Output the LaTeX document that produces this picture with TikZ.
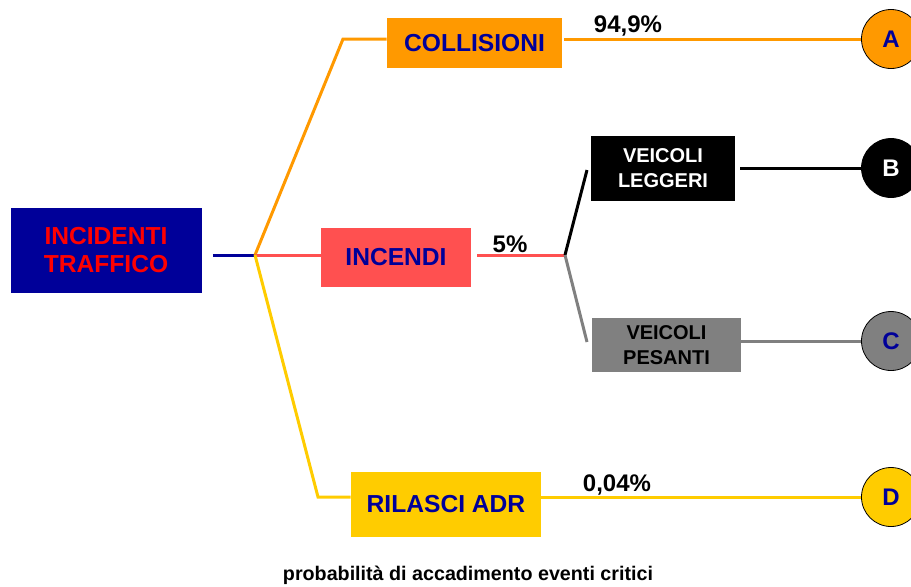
\documentclass[tikz,border=0pt]{standalone}
\usepackage{fontspec}
\setmainfont{Liberation Sans}
\usepackage{tikz}
\definecolor{navyblue}{HTML}{000099}
\definecolor{collorange}{HTML}{FF9900}
\definecolor{firered}{HTML}{FF5050}
\definecolor{adryellow}{HTML}{FFCC00}
\definecolor{heavygray}{HTML}{808080}

\begin{document}
\begin{tikzpicture}[y=-.5pt, x=.5pt]
\tikzset{
  box/.style={inner sep=0pt, align=center, font=\bfseries\fontsize{12.3}{14}\selectfont},
  smallbox/.style={box, font=\bfseries\fontsize{10}{12.5}\selectfont},
  event/.style={circle, draw=black, thin, minimum size=29.5pt, inner sep=0pt, font=\bfseries\fontsize{12}{12}\selectfont},
  branch/.style={line width=1.5pt},
  prob/.style={font=\bfseries\fontsize{12}{12}\selectfont}
}
\useasboundingbox (0,0) rectangle (911,586);
\node[box, fill=navyblue, text=red, minimum width=95.5pt, minimum height=42.5pt] (inc) at (106,250.5) {INCIDENTI\\TRAFFICO};
\node[box, fill=collorange, text=navyblue, minimum width=87.5pt, minimum height=25pt] (coll) at (474.5,43) {COLLISIONI};
\node[box, fill=firered, text=navyblue, minimum width=75pt, minimum height=29.5pt] (fire) at (396,257.5) {INCENDI};
\node[smallbox, fill=black, text=white, minimum width=72pt, minimum height=32.5pt] (light) at (663,168.5) {VEICOLI\\LEGGERI};
\node[smallbox, fill=heavygray, text=black, minimum width=74.5pt, minimum height=27pt] (heavy) at (666.5,345) {VEICOLI\\PESANTI};
\node[box, fill=adryellow, text=navyblue, minimum width=95pt, minimum height=32.5pt] (adr) at (446,504.5) {RILASCI ADR};
\node[event, fill=collorange, text=navyblue] (A) at (891,39) {A};
\node[event, fill=black, text=white] (B) at (891,168) {B};
\node[event, fill=heavygray, text=navyblue] (C) at (891,341) {C};
\node[event, fill=adryellow, text=navyblue] (D) at (891,497) {D};
\coordinate (j1) at (255,255);
\coordinate (j2) at (565,255);
\coordinate (kcoll) at (343,39);
\coordinate (kadr) at (318,497);
\coordinate (klight) at (587,170);
\coordinate (kheavy) at (587,342);
\draw[branch, navyblue, shorten <=5.5pt] (inc.east |- j1) -- (j1);
\draw[branch, collorange] (j1) -- (kcoll) -- (coll.west |- kcoll);
\draw[branch, collorange, shorten <=1pt] (coll.east |- A.west) -- (A.west);
\draw[branch, firered] (j1) -- (fire.west |- j1);
\draw[branch, firered, shorten <=3pt] (fire.east |- j2) -- (j2);
\draw[branch, black] (j2) -- (klight);
\draw[branch, heavygray] (j2) -- (kheavy);
\draw[branch, black, shorten <=2.5pt] (light.east |- B.west) -- (B.west);
\draw[branch, heavygray] (heavy.east |- C.west) -- (C.west);
\draw[branch, adryellow] (j1) -- (kadr) -- (adr.west |- kadr);
\draw[branch, adryellow] (adr.east |- D.west) -- (D.west);
\node[prob] (pcoll) at (628,26) {94,9\%};
\node[prob] (pfire) at (510,244) {5\%};
\node[prob] (padr) at (617,485) {0,04\%};
\node[font=\bfseries\fontsize{9.85}{10}\selectfont] (caption) at (468,575) {probabilità di accadimento eventi critici};
\end{tikzpicture}
\end{document}
